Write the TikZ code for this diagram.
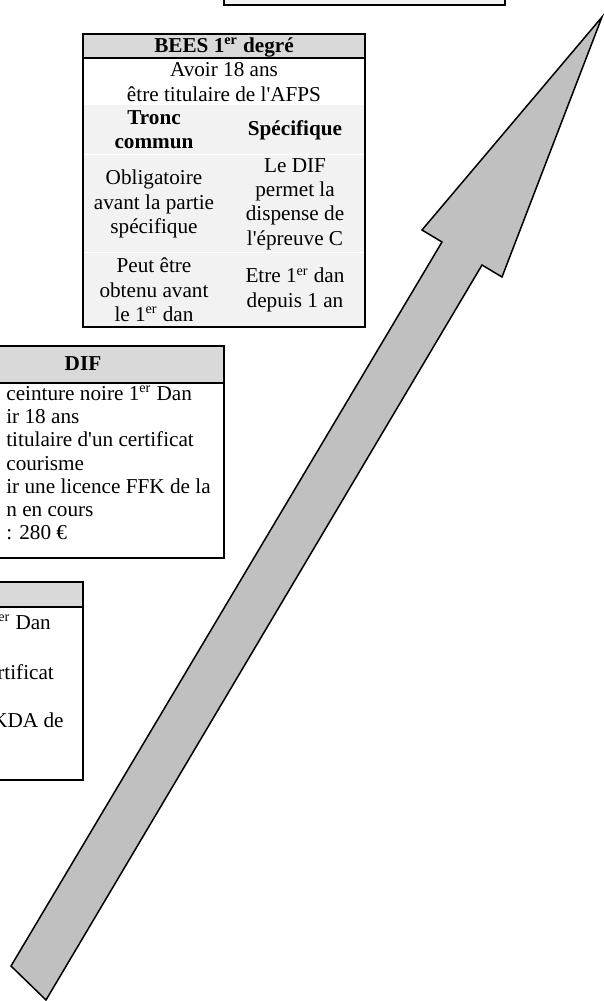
\documentclass[tikz,border=0pt]{standalone}
\usepackage{fontspec}
\setmainfont{Liberation Serif}
\definecolor{hdrgray}{HTML}{D9D9D9}
\definecolor{cellgray}{HTML}{F2F2F2}
\definecolor{arrowgray}{HTML}{C0C0C0}

\begin{document}
\begin{tikzpicture}[x = 0.566pt, y = -0.566pt,
	frame/.style = {line width = 1.1pt},
	txt/.style = {inner sep = 0pt, align = center, font = \fontsize{12}{13.8}\selectfont},
	txtb/.style = {inner sep = 0pt, align = center, font = \fontsize{12}{13.8}\selectfont\bfseries},
	txtl/.style = {inner sep = 0pt, anchor = west, align = left, font = \fontsize{12}{13.2}\selectfont},
]
	\useasboundingbox (0,0) rectangle (604,1001);

%top box, cut by the page
	\fill[cellgray] (224,-20) rectangle (505,5);
	\draw[frame] (224,-20) -- (224,5) -- (505,5) -- (505,-20);

%BEES 1er degre
	\fill[hdrgray] (83,34) rectangle (365,58);
	\fill[cellgray] (83,105) rectangle (365,327);
	\draw[white, line width = 0.4pt] (83,154) -- (365,154) (83,252) -- (365,252);
	\draw[frame] (83,34) rectangle (365,327);
	\draw[frame] (83,58) -- (365,58);

	\node[txtb] (bees) at (224,47) {BEES 1\textsuperscript{er} degré};
	\node[txt] (avoir) at (224,82) {Avoir 18 ans\\être titulaire de l\textquotesingle AFPS};
	\node[txtb] (tronc) at (154,130) {Tronc\\commun};
	\node[txtb] (specif) at (295,130) {Spécifique};
	\node[txt] (oblig) at (154,204) {Obligatoire\\avant la partie\\spécifique};
	\node[txt] (dispense) at (295,204) {Le DIF\\permet la\\dispense de\\l\textquotesingle épreuve C};
	\node[txt] (peut) at (154,290) {Peut être\\obtenu avant\\le 1\textsuperscript{er} dan};
	\node[txt] (depuis) at (295,290) {Etre 1\textsuperscript{er} dan\\depuis 1 an};

%DIF
	\fill[hdrgray] (-60,346) rectangle (224,383);
	\draw[frame] (-60,346) rectangle (224,558);
	\draw[frame] (-60,383) -- (224,383);

	\node[txtb] (dif) at (83,364) {DIF};
	\node[txtl] (difreq) at (6,463) {ceinture noire 1\textsuperscript{er} Dan\\ir 18 ans\\titulaire d\textquotesingle un certificat\\courisme\\ir une licence FFK de la\\n en cours\\: 280 €};

%third box
	\fill[hdrgray] (-60,582) rectangle (83,607);
	\draw[frame] (-60,582) rectangle (83,780);
	\draw[frame] (-60,607) -- (83,607);

	\node[txtl] (dan) at (-2,622) {\textsuperscript{er} Dan};
	\node[txtl] (certif) at (-3,672) {rtificat};
	\node[txtl] (ffkda) at (-8,720) {KDA de};

%big arrow
	\coordinate (tip) at (602,17);
	\coordinate (rbarb) at (502,277);
	\coordinate (rjoin) at (482,265);
	\coordinate (rfoot) at (46,1000);
	\coordinate (lfoot) at (11,966);
	\coordinate (ljoin) at (442,242);
	\coordinate (lbarb) at (422,230);

	\draw[fill = arrowgray, line width = 0.85pt, line join = miter]
		(tip) -- (rbarb) -- (rjoin) -- (rfoot) -- (lfoot) -- (ljoin) -- (lbarb) -- cycle;
\end{tikzpicture}
\end{document}
